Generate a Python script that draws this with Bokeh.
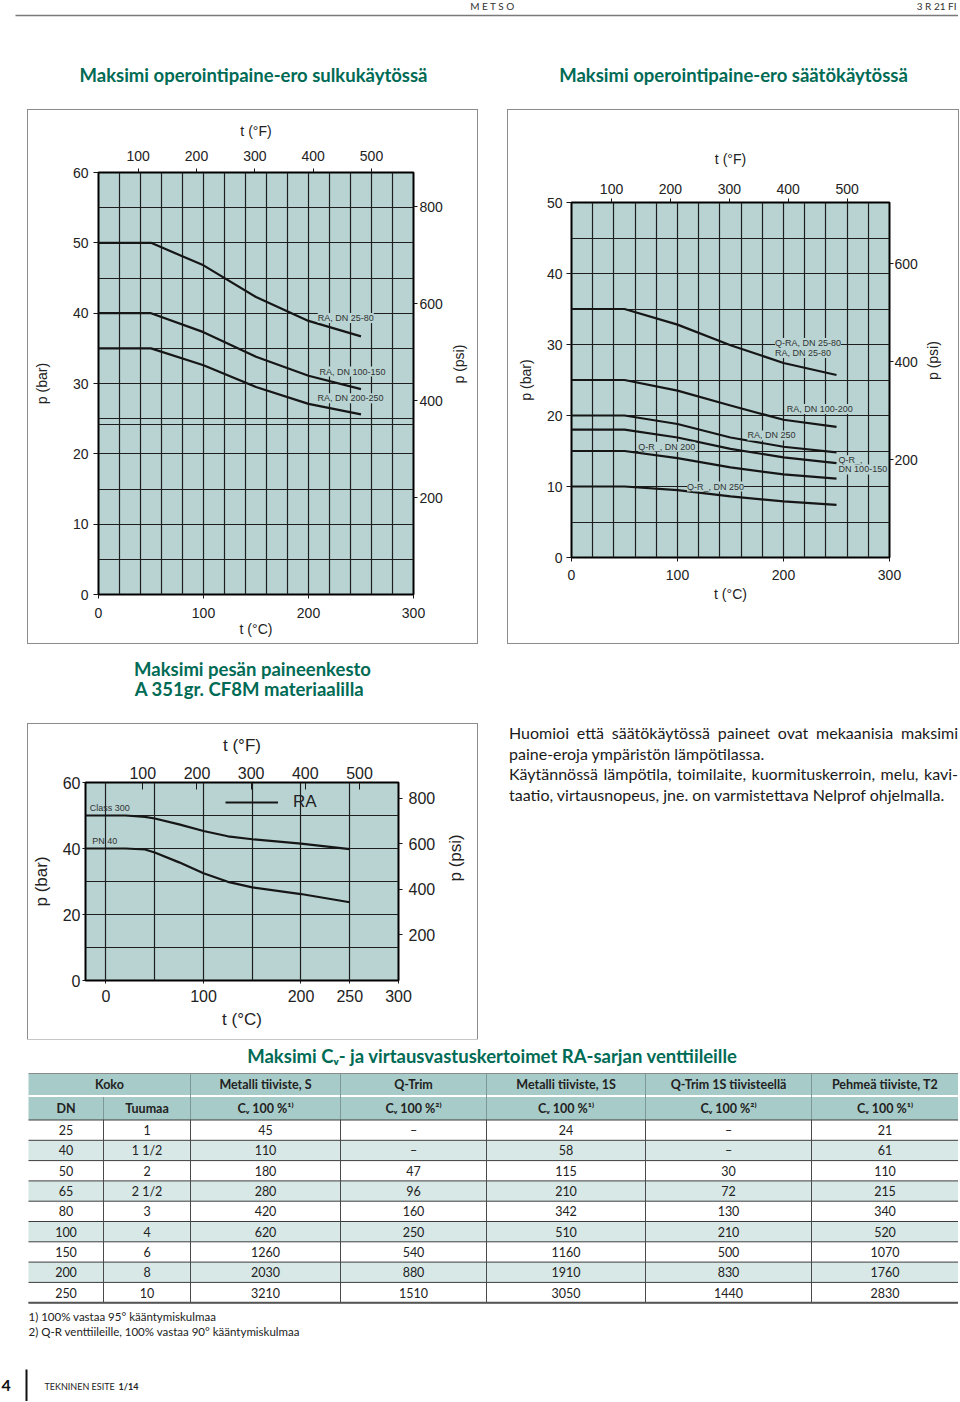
import math
from bokeh.plotting import figure
from bokeh.models import (Range1d, LinearAxis, FixedTicker, Label,
                          Spacer, Div, Legend, LegendItem, ColumnDataSource)
from bokeh.layouts import column, row
from bokeh.embed import file_html
from bokeh.resources import INLINE
from bokeh.core.properties import value

# ---------------- data ----------------
PSI_PER_BAR = 14.5038

# Chart 1: max pressure differential, on-off service (°C, bar)
c1_temp_c = [0, 50, 100, 150, 200, 250]
c1_ra_dn25_80 = [50, 50, 46.8, 42.3, 38.9, 36.7]
c1_ra_dn100_150 = [40, 40, 37.3, 33.8, 31.1, 29.2]
c1_ra_dn200_250 = [35, 35, 32.6, 29.5, 27.1, 25.6]
c1_names = ["RA, DN 25-80", "RA, DN 100-150", "RA, DN 200-250"]

# Chart 2: max pressure differential, control service (°C, bar)
c2_temp_c = [0, 50, 100, 150, 200, 250]
c2_qra_ra_dn25_80 = [35, 35, 32.8, 29.9, 27.4, 25.7]
c2_ra_dn100_200 = [25, 25, 23.5, 21.4, 19.4, 18.4]
c2_ra_dn250 = [20, 20, 18.8, 16.9, 15.6, 14.8]
c2_qr_dn100_150 = [18, 18, 16.9, 15.3, 14.1, 13.3]
c2_qr_dn200 = [15, 15, 14.0, 12.7, 11.7, 11.1]
c2_qr_dn250 = [10, 10, 9.5, 8.6, 7.9, 7.4]

# Chart 3: body pressure rating (°C, bar)
c3_temp_c = [-21, 20, 40, 50, 75, 100, 125, 150, 200, 250]
c3_class300 = [50, 50, 49.6, 49.1, 47.3, 45.3, 43.7, 42.8, 41.5, 39.8]
c3_pn40 = [40, 40, 39.7, 38.8, 35.8, 32.5, 29.9, 28.2, 26.2, 23.7]

# Table
tbl_head1 = ["Koko", "Metalli tiiviste, S", "Q-Trim", "Metalli tiiviste, 1S",
             "Q-Trim 1S tiivisteellä", "Pehmeä tiiviste, T2"]
tbl_head2 = ["DN", "Tuumaa", "Cᵥ 100 %¹⁾", "Cᵥ 100 %²⁾", "Cᵥ 100 %¹⁾",
             "Cᵥ 100 %²⁾", "Cᵥ 100 %¹⁾"]
tbl_dn = ["25", "40", "50", "65", "80", "100", "150", "200", "250"]
tbl_inch = ["1", "1 1/2", "2", "2 1/2", "3", "4", "6", "8", "10"]
tbl_metal_s = ["45", "110", "180", "280", "420", "620", "1260", "2030", "3210"]
tbl_qtrim = ["–", "–", "47", "96", "160", "250", "540", "880", "1510"]
tbl_metal_1s = ["24", "58", "115", "210", "342", "510", "1160", "1910", "3050"]
tbl_qtrim_1s = ["–", "–", "30", "72", "130", "210", "500", "830", "1440"]
tbl_soft_t2 = ["21", "61", "110", "215", "340", "520", "1070", "1760", "2830"]

footnotes = ["1) 100% vastaa 95° kääntymiskulmaa",
             "2) Q-R venttiileille, 100% vastaa 90° kääntymiskulmaa"]
para_lines = ["Huomioi että säätökäytössä paineet ovat mekaanisia maksimi",
              "paine-eroja ympäristön lämpötilassa.",
              "Käytännössä lämpötila, toimilaite, kuormituskerroin, melu, kavi-",
              "taatio, virtausnopeus, jne. on  varmistettava Nelprof ohjelmalla."]
para_justify = [True, False, True, False]

# ---------------- style ----------------
BG = "#b8d3d2"
GRID = "#1e1e1e"
INK = "#161616"
TXT = "#222222"
GREEN = "#006b55"
CF = "Liberation Sans"
TF = "Lato"
HEAD = "#a7cbc8"
STRIPE = "#d7e8e6"
BOX = {"outline": "1px solid #8c8c8c", "outline-offset": "0px"}


def style_axis(ax, fs, fl, tick_out, tick_in, lab_st, ax_st):
    ax.axis_line_color = None
    ax.major_tick_line_color = INK
    ax.major_tick_line_width = 1
    ax.minor_tick_line_color = None
    ax.major_tick_out = tick_out
    ax.major_tick_in = tick_in
    ax.major_label_standoff = lab_st
    ax.axis_label_standoff = ax_st
    ax.major_label_text_font = CF
    ax.major_label_text_font_size = fs
    ax.major_label_text_color = TXT
    ax.axis_label_text_font = CF
    ax.axis_label_text_font_size = fl
    ax.axis_label_text_font_style = "normal"
    ax.axis_label_text_color = TXT


def make_chart(w, h, xr, yr, bl, br, bt, bb):
    p = figure(width=w, height=h, x_range=Range1d(*xr), y_range=Range1d(*yr),
               output_backend="svg", toolbar_location=None,
               min_border_left=bl, min_border_right=br,
               min_border_top=bt, min_border_bottom=bb,
               background_fill_color=BG, border_fill_color="white",
               outline_line_color="black", outline_line_width=2, styles=BOX)
    p.extra_x_ranges = {"f": Range1d(xr[0] * 1.8 + 32, xr[1] * 1.8 + 32)}
    p.extra_y_ranges = {"psi": Range1d(yr[0] * PSI_PER_BAR, yr[1] * PSI_PER_BAR)}
    top = LinearAxis(x_range_name="f", axis_label="t (°F)")
    right = LinearAxis(y_range_name="psi", axis_label="p (psi)")
    p.add_layout(top, "above")
    p.add_layout(right, "right")
    p.below[0].axis_label = "t (°C)"
    p.left[0].axis_label = "p (bar)"
    right.axis_label_orientation = math.pi / 2
    p.xgrid.grid_line_color = GRID
    p.ygrid.grid_line_color = GRID
    p.xgrid.grid_line_width = 1.2
    p.ygrid.grid_line_width = 1.2
    return p, top, right


def curve(p, xs, ys):
    return p.line(xs, ys, line_color=INK, line_width=2.2, line_join="round")


def tag(p, x, y, text, align="left", bg=BG, size="9px"):
    p.add_layout(Label(x=x, y=y, text=text, text_font=CF, text_font_size=size,
                       text_color="#333333", text_align=align, text_baseline="middle",
                       background_fill_color=bg))


# ---------- Chart 1 ----------
p1, t1, r1 = make_chart(449, 533, (0, 300), (0, 60), 70, 63, 62, 49)
p1.below[0].ticker = FixedTicker(ticks=[0, 100, 200, 300])
p1.left[0].ticker = FixedTicker(ticks=[0, 10, 20, 30, 40, 50, 60])
t1.ticker = FixedTicker(ticks=[100, 200, 300, 400, 500])
r1.ticker = FixedTicker(ticks=[200, 400, 600, 800])
p1.xgrid.ticker = FixedTicker(ticks=list(range(20, 300, 20)))
p1.ygrid.ticker = FixedTicker(ticks=list(range(5, 60, 5)) + [24.2])
style_axis(p1.left[0], "14px", "14px", 5, 0, 5, 20)
style_axis(p1.below[0], "14px", "14px", 4, 0, 9, 0)
style_axis(t1, "14px", "14px", 4, 0, 8, 9)
style_axis(r1, "14px", "14px", 4, 0, 2, 13)
for ys in (c1_ra_dn25_80, c1_ra_dn100_150, c1_ra_dn200_250):
    curve(p1, c1_temp_c, ys)
tag(p1, 235.5, 39.3, c1_names[0], "center")
tag(p1, 242, 31.7, c1_names[1], "center")
tag(p1, 240, 27.9, c1_names[2], "center")

# ---------- Chart 2 ----------
p2, t2, r2 = make_chart(450, 533, (0, 300), (0, 50), 63, 69, 92, 86)
p2.below[0].ticker = FixedTicker(ticks=[0, 100, 200, 300])
p2.left[0].ticker = FixedTicker(ticks=[0, 10, 20, 30, 40, 50])
t2.ticker = FixedTicker(ticks=[100, 200, 300, 400, 500])
r2.ticker = FixedTicker(ticks=[200, 400, 600])
p2.xgrid.ticker = FixedTicker(ticks=list(range(20, 300, 20)))
p2.ygrid.ticker = FixedTicker(ticks=list(range(5, 50, 5)))
style_axis(p2.left[0], "14px", "14px", 5, 0, 4, 10)
style_axis(p2.below[0], "14px", "14px", 4, 0, 8, 3)
style_axis(t2, "14px", "14px", 4, 0, 5, 14)
style_axis(r2, "14px", "14px", 4, 0, 1, 12)
for ys in (c2_qra_ra_dn25_80, c2_ra_dn100_200, c2_ra_dn250, c2_qr_dn100_150,
           c2_qr_dn200, c2_qr_dn250):
    curve(p2, c2_temp_c, ys)
tag(p2, 192, 30.2, "Q-RA, DN 25-80")
tag(p2, 192, 28.8, "RA, DN 25-80")
tag(p2, 203, 20.9, "RA, DN 100-200")
tag(p2, 166, 17.2, "RA, DN 250")
tag(p2, 63, 15.6, "Q-R_, DN 200")
tag(p2, 252, 13.7, "Q-R_,")
tag(p2, 252, 12.4, "DN 100-150")
tag(p2, 109, 10.0, "Q-R_, DN 250")

# ---------- Chart 3 ----------
p3, t3, r3 = make_chart(449, 315, (-21, 300), (0, 60), 57, 76, 58, 59)
p3.below[0].ticker = FixedTicker(ticks=[0, 100, 200, 250, 300])
p3.left[0].ticker = FixedTicker(ticks=[0, 20, 40, 60])
t3.ticker = FixedTicker(ticks=[100, 200, 300, 400, 500])
r3.ticker = FixedTicker(ticks=[200, 400, 600, 800])
p3.xgrid.ticker = FixedTicker(ticks=[0, 50, 100, 150, 200, 250])
p3.ygrid.ticker = FixedTicker(ticks=[10, 20, 30, 40, 50])
style_axis(p3.left[0], "16px", "17px", 3, 0, 2, 9)
style_axis(p3.below[0], "16px", "17px", 3, 0, 6, 5)
style_axis(t3, "16px", "17px", 0, 7, 4, 9)
style_axis(r3, "16px", "17px", 4, 0, 6, 17)
rc = curve(p3, c3_temp_c, c3_class300)
curve(p3, c3_temp_c, c3_pn40)
tag(p3, -16.6, 52.4, "Class 300", "left", None)
tag(p3, -14, 42.3, "PN 40", "left", None)
leg = Legend(items=[LegendItem(label="RA", renderers=[rc])], location=(140, 168),
             glyph_width=53, glyph_height=20, label_height=20, label_standoff=15,
             label_text_font=CF, label_text_font_size="17px", label_text_color=TXT,
             background_fill_alpha=0, border_line_color=None, padding=0, margin=0)
p3.add_layout(leg)


# ---------- text canvases ----------
def canvas(w, h):
    p = figure(width=w, height=h, x_range=Range1d(0, w), y_range=Range1d(h, 0),
               output_backend="svg", toolbar_location=None,
               x_axis_type=None, y_axis_type=None, min_border=0,
               outline_line_color=None, background_fill_color="white",
               border_fill_color="white")
    return p


def txt(p, x, y, t, size, color=TXT, bold=False, align="center", font=TF):
    p.text(x=[x], y=[y], text=[t], text_font=value(font), text_font_size=size,
           text_font_style="bold" if bold else "normal", text_color=color,
           text_align=align, text_baseline="middle")


W = 958
# band 1: header + titles (page y 0..110)
b1 = canvas(W, 109)
txt(b1, 492, 5, "M E T S O", "10px", "#333333")
txt(b1, 956, 5, "3 R 21 FI", "10px", "#333333", align="right")
b1.segment(x0=[15], y0=[15], x1=[958], y1=[15], line_color="#7a7a7a", line_width=1.5)
txt(b1, 253, 74, "Maksimi operointipaine-ero sulkukäytössä", "18.5px", GREEN, True)
txt(b1, 733, 74, "Maksimi operointipaine-ero säätökäytössä", "18.5px", GREEN, True)

# band 3: title of chart 3 (page y 645..723)
b3 = canvas(W, 78)
txt(b3, 252, 23, "Maksimi pesän paineenkesto", "18.5px", GREEN, True)
txt(b3, 249, 43, "A 351gr. CF8M materiaalilla", "18.5px", GREEN, True)

# paragraph
lines_html = ""
for t, j in zip(para_lines, para_justify):
    al = "justify" if j else "left"
    lines_html += (f'<div style="white-space:nowrap;text-align:{al};text-align-last:{al};'
                   f'height:20.7px;line-height:20.7px;">{t}</div>')
para = Div(text=f'<div style="font-family:Lato;font-size:16px;color:#1a1a1a;width:449px;">'
                f'{lines_html}</div>', width=449, height=100, margin=(0, 0, 0, 0))

# band 5: table, footnotes, footer (page y 1038..1400)
b5 = canvas(W, 362)
txt(b5, 492, 16, "Maksimi Cᵥ- ja virtausvastuskertoimet RA-sarjan venttiileille",
    "18.5px", GREEN, True)
X = [28, 103, 190, 340, 486, 645, 811, 958]
H1_TOP, H1_BOT, H2_BOT = 34, 56.5, 80.5
RH = 20.3
n = len(tbl_dn)
b5.quad(left=[X[0]], right=[X[-1]], top=[H1_TOP], bottom=[H2_BOT], fill_color=HEAD,
        line_color=None)
idx = list(range(n))
rows = ColumnDataSource(dict(
    top=[H2_BOT + i * RH for i in idx],
    bottom=[H2_BOT + (i + 1) * RH for i in idx],
    fill=["white" if i % 2 == 0 else STRIPE for i in idx]))
b5.quad(left=X[0], right=X[-1], top="top", bottom="bottom", fill_color="fill",
        line_color=None, source=rows)
# header separators
b5.segment(x0=[X[0]], y0=[H1_BOT], x1=[X[-1]], y1=[H1_BOT], line_color="white",
           line_width=2)
b5.segment(x0=X[2:-1], y0=[H1_TOP] * 5, x1=X[2:-1], y1=[H2_BOT] * 5,
           line_color="#7d9896", line_width=1)
b5.segment(x0=[X[1]], y0=[H1_BOT + 1], x1=[X[1]], y1=[H2_BOT], line_color="#7d9896",
           line_width=1)
b5.segment(x0=[X[0]], y0=[H1_TOP], x1=[X[-1]], y1=[H1_TOP], line_color="#8a8a8a",
           line_width=1)
# body grid
b5.segment(x0=[X[0]] * (n + 1), y0=[H2_BOT + i * RH for i in range(n + 1)],
           x1=[X[-1]] * (n + 1), y1=[H2_BOT + i * RH for i in range(n + 1)],
           line_color="#3c3c3c", line_width=1)
b5.segment(x0=X[1:-1], y0=[H2_BOT] * 6, x1=X[1:-1], y1=[H2_BOT + n * RH] * 6,
           line_color="#4a4a4a", line_width=1)
b5.segment(x0=[X[0]], y0=[H2_BOT + n * RH], x1=[X[-1]], y1=[H2_BOT + n * RH],
           line_color="#555555", line_width=2)
# header text
h1x = [(X[0] + X[2]) / 2] + [(X[j] + X[j + 1]) / 2 for j in range(2, 7)]
b5.text(x=h1x, y=[(H1_TOP + H1_BOT) / 2] * 6, text=tbl_head1, text_font=value(TF),
        text_font_size="12.5px", text_font_style="bold", text_color=TXT,
        text_align="center", text_baseline="middle")
cx = [(X[j] + X[j + 1]) / 2 for j in range(7)]
b5.text(x=cx, y=[(H1_BOT + H2_BOT) / 2 + 0.5] * 7, text=tbl_head2, text_font=value(TF),
        text_font_size="12.5px", text_font_style="bold", text_color=TXT,
        text_align="center", text_baseline="middle")
# body text
for j, colvals in enumerate([tbl_dn, tbl_inch, tbl_metal_s, tbl_qtrim, tbl_metal_1s,
                             tbl_qtrim_1s, tbl_soft_t2]):
    b5.text(x=[cx[j]] * n, y=[H2_BOT + (i + 0.5) * RH for i in idx], text=colvals,
            text_font=value(TF), text_font_size="12.5px", text_color=TXT,
            text_align="center", text_baseline="middle")
# footnotes
b5.text(x=[28, 28], y=[277, 292], text=footnotes, text_font=value(TF),
        text_font_size="11.5px", text_color=TXT, text_align="left",
        text_baseline="middle")
# footer
txt(b5, 1, 346, "4", "16px", "#111111", True, "left")
b5.segment(x0=[26], y0=[330], x1=[26], y1=[362], line_color="#111111", line_width=2)
txt(b5, 44, 347, "TEKNINEN ESITE", "9px", "#222222", False, "left")
txt(b5, 118, 347, "1/14", "9px", "#222222", True, "left")

# ---------- layout ----------
band2 = row(Spacer(width=28, height=536), column(Spacer(width=1, height=1), p1),
            Spacer(width=31, height=536), column(Spacer(width=1, height=1), p2))
band4 = row(Spacer(width=28, height=316), column(Spacer(width=1, height=1), p3),
            Spacer(width=32, height=316), para)
page = column(b1, band2, b3, band4, b5)

open("out.html", "w").write(file_html(page, INLINE))
